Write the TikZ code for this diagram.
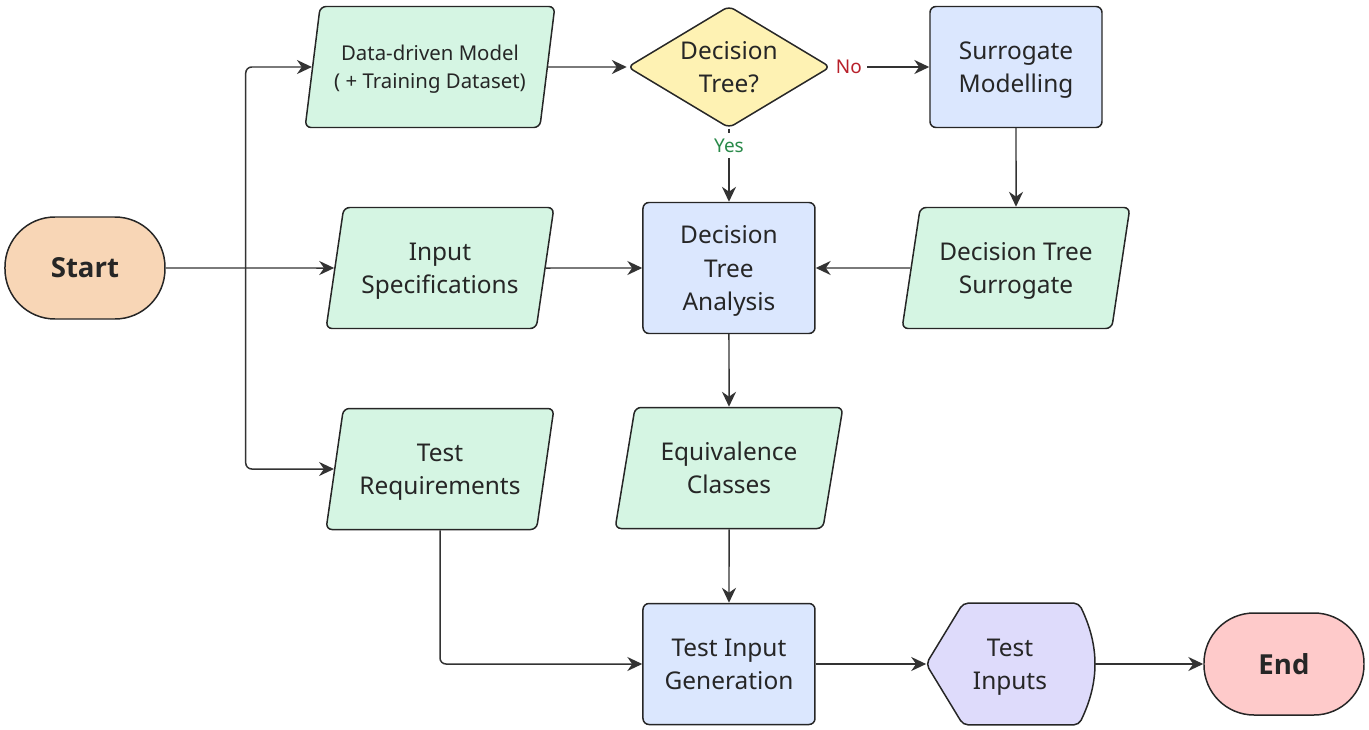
\documentclass[tikz,border=0pt]{standalone}
\usepackage{fontspec}
\setmainfont{Noto Sans}
\newfontfamily\termfont{Open Sans}
\usetikzlibrary{arrows.meta,positioning,shapes.geometric,backgrounds,calc}
\definecolor{ink}{HTML}{262626}
\definecolor{edge}{HTML}{333333}
\definecolor{startfill}{HTML}{F8D6B6}
\definecolor{stopfill}{HTML}{FECACA}
\definecolor{iofill}{HTML}{D5F5E3}
\definecolor{procfill}{HTML}{DBE7FE}
\definecolor{choicefill}{HTML}{FEF2B3}
\definecolor{outfill}{HTML}{DEDBFB}
\definecolor{nored}{HTML}{B8202A}
\definecolor{yesgreen}{HTML}{2A8A4A}

\begin{document}
\begin{tikzpicture}[
        node distance=4cm, on grid,
        base/.style={draw=ink, line width=0.85pt, align=center, text=ink,
                     font=\fontsize{13.9}{18.8}\selectfont},
        term/.style={base, rounded corners=1cm, minimum width=3.2cm, minimum height=2.04cm,
                     font=\termfont\bfseries\fontsize{15.7}{20}\selectfont},
        proc/.style={base, text depth=-1.2pt, rounded corners=0.12cm, fill=procfill,
                     minimum width=3.44cm, minimum height=2.42cm},
        io/.style={base, text depth=-1.2pt, trapezium, trapezium left angle=76, trapezium right angle=104,
                   trapezium stretches=true, rounded corners=0.12cm, fill=iofill,
                   minimum width=4.56cm, minimum height=2.42cm},
        choice/.style={base, diamond, aspect=1.66, inner sep=0pt, rounded corners=0.12cm,
                       fill=choicefill, minimum width=4.06cm, minimum height=2.44cm},
        arr/.style={draw=edge, line width=0.85pt, -{Stealth[length=8.5pt,width=8pt]}},
        lbl/.style={font=\fontsize{10.8}{13}\selectfont, fill=white, inner sep=3pt}
    ]
        \useasboundingbox (-14.58,5.36) rectangle (12.8,-9.24);

        \node[proc, minimum height=2.62cm] (dta) {Decision\\Tree\\Analysis};
        \node[choice, above=4.02cm of dta] (dec) {Decision\\Tree?};
        \node[proc, right=5.74cm of dec] (surr) {Surrogate\\Modelling};
        \node[io, below=4.02cm of surr] (dts) {Decision Tree\\Surrogate};
        \node[io, left=5.78cm of dta] (inspec) {Input\\Specifications};
        \node[io, text depth=0.3pt, minimum width=5cm, above left=4.02cm and 0.2cm of inspec,
              font=\fontsize{11.6}{15.9}\selectfont] (ddm) {Data-driven Model\\( + Training Dataset)};
        \node[io, below=4.02cm of inspec] (treq) {Test\\Requirements};
        \node[term, fill=startfill, left=7.1cm of inspec] (start) {Start};
        \node[io, below=4cm of dta] (eqc) {Equivalence\\Classes};
        \node[proc, below=3.92cm of eqc] (tig) {Test Input\\Generation};
        \node[text depth=-1.2pt, align=center, text=ink, font=\fontsize{13.9}{18.8}\selectfont,
              minimum width=3.34cm, minimum height=2.42cm, right=5.62cm of tig] (tinp) {Test\\Inputs};
        \node[term, fill=stopfill, right=5.48cm of tinp] (stop) {End};

        \begin{scope}[on background layer]
            \filldraw[draw=ink, line width=0.85pt, fill=outfill, rounded corners=0.1cm]
                (tinp.west) -- ([xshift=0.74cm]tinp.north west) -- ([xshift=-0.3cm]tinp.north east)
                to[bend left=26] ([xshift=-0.3cm]tinp.south east) -- ([xshift=0.74cm]tinp.south west) -- cycle;
        \end{scope}

        \coordinate[right=1.6cm of start.east] (fork);
        \draw[arr] (start.east) -- (inspec.west);
        \draw[arr, rounded corners=0.12cm] (fork) |- (ddm.west);
        \draw[arr, rounded corners=0.12cm] (fork) |- (treq.west);
        \draw[arr] (ddm.east) -- (dec.west);
        \draw[arr] (dec.east) -- node[lbl, text=nored, pos=0.18] {No} (surr.west);
        \draw[arr] (dec.south) -- node[lbl, text=yesgreen, pos=0.23] {Yes} (dta.north);
        \draw[arr] (surr.south) -- (dts.north);
        \draw[arr] (dts.west) -- (dta.east);
        \draw[arr] (inspec.east) -- (dta.west);
        \draw[arr] (dta.south) -- (eqc.north);
        \draw[arr] (eqc.south) -- (tig.north);
        \draw[arr, rounded corners=0.12cm] (treq.south) |- (tig.west);
        \draw[arr] (tig.east) -- (tinp.west);
        \draw[arr] (tinp.east) -- (stop.west);
    \end{tikzpicture}
\end{document}
